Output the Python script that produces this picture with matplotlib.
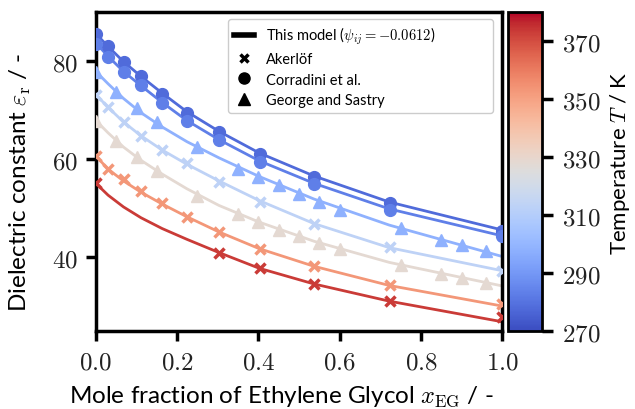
import matplotlib
matplotlib.use("Agg")
import matplotlib.pyplot as plt
from matplotlib.ticker import FuncFormatter
from matplotlib.lines import Line2D
import matplotlib.colors as mcolors

plt.rcParams['mathtext.fontset'] = 'cm'
plt.rcParams['font.family'] = ['Lato', 'DejaVu Sans']

# model curves
x_model = [0.0, 0.03, 0.068, 0.111, 0.163, 0.224, 0.303, 0.402, 0.537, 0.722, 1.0]
model_temps = [278.15, 283.15, 298.15, 313.15, 328.15, 353.15, 373.15]
model_278 = [85.6, 83.0, 79.9, 76.9, 73.5, 69.7, 65.7, 61.3, 56.6, 51.3, 45.6]
model_283 = [83.7, 81.0, 77.9, 75.0, 71.6, 67.9, 64.0, 59.7, 55.1, 49.9, 44.4]
model_298 = [77.9, 75.4, 72.4, 69.5, 66.6, 63.6, 60.3, 56.5, 51.9, 46.6, 40.2]
model_313 = [73.2, 70.6, 67.6, 64.8, 61.9, 59.0, 55.6, 51.6, 46.9, 42.0, 37.3]
model_328 = [67.9, 65.4, 62.5, 59.8, 57.0, 54.0, 50.6, 47.2, 43.3, 39.0, 34.2]
model_353 = [60.7, 58.0, 55.6, 53.3, 50.9, 48.3, 45.2, 41.8, 38.2, 34.3, 30.1]
model_373 = [55.1, 52.7, 50.3, 48.1, 45.9, 43.7, 41.0, 37.8, 34.6, 31.1, 26.9]
model_vals = [model_278, model_283, model_298, model_313, model_328, model_353, model_373]

# Corradini et al.
x_corr = [0.0, 0.031, 0.068, 0.111, 0.162, 0.225, 0.303, 0.404, 0.537, 0.723, 1.0]
eps_corr_278 = [85.5, 83.1, 79.8, 76.9, 73.3, 69.5, 65.6, 61.1, 56.4, 51.1, 45.3]
eps_corr_283 = [83.6, 80.9, 77.8, 75.1, 71.5, 67.8, 63.9, 59.5, 55.0, 49.7, 44.3]

# George and Sastry
x_gs = [0.0, 0.05, 0.1, 0.15, 0.25, 0.35, 0.4, 0.45, 0.5, 0.55, 0.6, 0.75, 0.85, 0.9, 0.96]
eps_gs_298 = [77.8, 73.7, 70.4, 67.6, 62.5, 58.1, 56.5, 54.8, 53.0, 51.3, 49.6, 46.0, 43.6, 42.6, 41.4]
eps_gs_328 = [67.8, 63.7, 60.4, 57.6, 52.5, 48.8, 47.2, 45.7, 44.3, 42.9, 41.7, 38.5, 36.6, 35.8, 34.9]

# Akerlof
x_ak = [0.0, 0.031, 0.068, 0.111, 0.162, 0.225, 0.303, 0.404, 0.537, 0.723, 1.0]
eps_ak_313 = [73.2, 70.6, 67.7, 64.7, 62.0, 59.3, 55.4, 51.3, 46.8, 42.1, 37.3]
eps_ak_353 = [60.7, 58.1, 55.9, 53.5, 51.2, 48.3, 45.1, 41.8, 38.2, 34.3, 30.6]
x_ak_373 = [0.0, 0.303, 0.404, 0.537, 0.723, 1.0]
eps_ak_373 = [55.1, 40.9, 37.8, 34.6, 31.2, 27.8]

cmap = plt.get_cmap('coolwarm')
norm = mcolors.Normalize(vmin=270, vmax=380)

fig = plt.figure(figsize=(6.35, 4.10), dpi=100)
ax = fig.add_axes([0.151, 0.190, 0.640, 0.778])
cax = fig.add_axes([0.800, 0.190, 0.054, 0.778])

for T, vals in zip(model_temps, model_vals):
    ax.plot(x_model, vals, color=cmap(norm(T)), lw=2, zorder=2)

ax.plot(x_corr, eps_corr_278, 'o', ms=8.5, color=cmap(norm(278.15)), zorder=3)
ax.plot(x_corr, eps_corr_283, 'o', ms=8.5, color=cmap(norm(283.15)), zorder=3)
ax.plot(x_gs, eps_gs_298, '^', ms=9, color=cmap(norm(298.15)), zorder=3)
ax.plot(x_gs, eps_gs_328, '^', ms=9, color=cmap(norm(328.15)), zorder=3)
ax.plot(x_ak, eps_ak_313, 'x', ms=7, mew=2.5, color=cmap(norm(313.15)), zorder=3)
ax.plot(x_ak, eps_ak_353, 'x', ms=7, mew=2.5, color=cmap(norm(353.15)), zorder=3)
ax.plot(x_ak_373, eps_ak_373, 'x', ms=7, mew=2.5, color=cmap(norm(373.15)), zorder=3)

ax.set_xlim(0, 1)
ax.set_ylim(25, 90)
ax.set_xticks([0, 0.2, 0.4, 0.6, 0.8, 1.0])
ax.set_yticks([40, 60, 80])
ax.xaxis.set_major_formatter(FuncFormatter(lambda v, p: f"${v:.1f}$"))
ax.yaxis.set_major_formatter(FuncFormatter(lambda v, p: f"${v:.0f}$"))
ax.tick_params(width=2.5, length=7, labelsize=18, pad=6, labelcolor='#222222')
for s in ax.spines.values():
    s.set_linewidth(2.5)

ax.set_xlabel(r"Mole fraction of Ethylene Glycol $x_\mathrm{EG}$ / -", fontsize=17.5)
ax.set_ylabel(r"Dielectric constant $\varepsilon_\mathrm{r}$ / -", fontsize=17.5)
ax.xaxis.set_label_coords(0.456, -0.163)
ax.yaxis.set_label_coords(-0.155, 0.47)

handles = [
    Line2D([], [], color='k', lw=4),
    Line2D([], [], color='k', marker='x', ls='none', ms=6, mew=2.5),
    Line2D([], [], color='k', marker='o', ls='none', ms=8),
    Line2D([], [], color='k', marker='^', ls='none', ms=8),
]
labels = [r"This model ($\psi_{ij}=-0.0612$)", "Akerlöf", "Corradini et al.", "George and Sastry"]
ax.legend(handles, labels, loc='upper left', bbox_to_anchor=(0.325, 0.978, 0.653, 0.0),
          mode='expand', borderaxespad=0, fontsize=10.5, handlelength=1.4,
          labelspacing=0.42, framealpha=1, edgecolor='#cccccc')

sm = plt.cm.ScalarMappable(cmap=cmap, norm=norm)
cb = fig.colorbar(sm, cax=cax)
cb.set_ticks([270, 290, 310, 330, 350, 370])
cb.ax.yaxis.set_major_formatter(FuncFormatter(lambda v, p: f"${v:.0f}$"))
cb.ax.tick_params(width=2.5, length=8, labelsize=18, pad=6, labelcolor='#222222')
cb.outline.set_linewidth(2)
cb.set_label(r"Temperature $T$ / K", fontsize=16)
cb.ax.yaxis.set_label_coords(2.92, 0.53)

fig.savefig("out.png", dpi=100)
